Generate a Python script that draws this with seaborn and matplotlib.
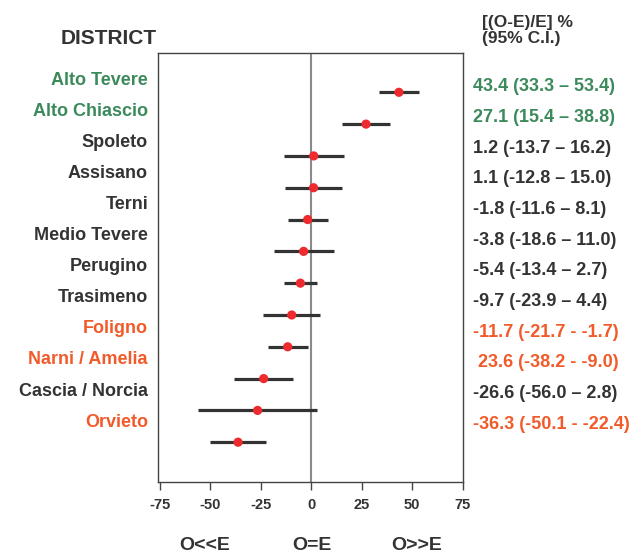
import pandas as pd
import seaborn as sns
import matplotlib.pyplot as plt
from matplotlib.transforms import blended_transform_factory

# --- dati ---
districts = ['Alto Tevere', 'Alto Chiascio', 'Spoleto', 'Assisano', 'Terni',
             'Medio Tevere', 'Perugino', 'Trasimeno', 'Foligno',
             'Narni / Amelia', 'Cascia / Norcia', 'Orvieto']
estimate = [43.4, 27.1, 1.2, 1.1, -1.8, -3.8, -5.4, -9.7, -11.7, -23.6, -26.6, -36.3]
ci_low = [33.3, 15.4, -13.7, -12.8, -11.6, -18.6, -13.4, -23.9, -21.7, -38.2, -56.0, -50.1]
ci_high = [53.4, 38.8, 16.2, 15.0, 8.1, 11.0, 2.7, 4.4, -1.7, -9.0, 2.8, -22.4]
# etichette a destra, come scritte nell'originale
value_labels = ['43.4 (33.3 – 53.4)', '27.1 (15.4 – 38.8)', '1.2 (-13.7 – 16.2)',
                '1.1 (-12.8 – 15.0)', '-1.8 (-11.6 – 8.1)', '-3.8 (-18.6 – 11.0)',
                '-5.4 (-13.4 – 2.7)', '-9.7 (-23.9 – 4.4)', '-11.7 (-21.7 - -1.7)',
                ' 23.6 (-38.2 - -9.0)', '-26.6 (-56.0 – 2.8)', '-36.3 (-50.1 - -22.4)']
# high = eccesso significativo, low = difetto significativo, ns = non significativo
group = ['high', 'high', 'ns', 'ns', 'ns', 'ns', 'ns', 'ns', 'low', 'low', 'ns', 'low']
x_ticks = [-75, -50, -25, 0, 25, 50, 75]
bottom_labels = ['O<<E', 'O=E', 'O>>E']
bottom_pos = [-53, 0.5, 52]

GROUP_COLORS = {'high': '#3c8a5c', 'low': '#f15a29', 'ns': '#333333'}
DARK = '#333333'

df = pd.DataFrame({'District': districts, 'Estimate': estimate,
                   'Low': ci_low, 'High': ci_high, 'Label': value_labels,
                   'Group': group})
df['Pos'] = range(len(df))

sns.set_theme(style="white")
plt.rcParams['font.family'] = ['Liberation Sans', 'DejaVu Sans']
plt.rcParams['font.weight'] = 'bold'

fig = plt.figure(figsize=(6.36, 5.55), dpi=100)
W, H = 636, 555
ax = fig.add_axes([158.3 / W, 1 - 482.3 / H, (462.7 - 158.3) / W, (482.3 - 52.7) / H])

# linea di riferimento O=E
ax.axvline(0, color='#8a8a8a', lw=1.5, zorder=1)

# intervalli di confidenza
ax.hlines(df['Pos'], df['Low'], df['High'], color=DARK, lw=2.3, zorder=2)

# stime puntuali
sns.scatterplot(data=df, x='Estimate', y='Pos', ax=ax, color='#ee2a2f',
                s=44, edgecolor='none', zorder=3, legend=False)

ax.set_xlim(-75.8, 75)
ax.set_ylim(12.26, -1.245)
ax.set_xticks(x_ticks)
ax.set_xticklabels([str(t) for t in x_ticks], fontsize=10.5, fontweight='bold', color=DARK)
ax.set_yticks([])
ax.set_xlabel('')
ax.set_ylabel('')
ax.tick_params(axis='x', direction='out', length=5.5, width=1, color='#444444',
               pad=6, bottom=True)
for sp in ax.spines.values():
    sp.set_color('#444444')
    sp.set_linewidth(1)

# etichette distretti (a sinistra) e valori (a destra)
for i, row in df.iterrows():
    c = GROUP_COLORS[row['Group']]
    y_left = 1 - (78.3 + 31.06 * i + 6.6) / H
    fig.text(148 / W, y_left, row['District'], ha='right', va='baseline',
             fontsize=13, fontweight='bold', color=c)
    y_right = 1 - (84.5 + 30.7 * i + 6.6) / H
    fig.text(473 / W, y_right, row['Label'], ha='left', va='baseline',
             fontsize=13, fontweight='bold', color=c)

fig.text(157 / W, 1 - 44 / H, 'DISTRICT', ha='right', va='baseline',
         fontsize=15, fontweight='bold', color=DARK)
fig.text(482 / W, 1 - 26.5 / H, '[(O-E)/E] %', ha='left', va='baseline',
         fontsize=12.5, fontweight='bold', color=DARK)
fig.text(482 / W, 1 - 43 / H, '(95% C.I.)', ha='left', va='baseline',
         fontsize=12.5, fontweight='bold', color=DARK)

trans = blended_transform_factory(ax.transData, fig.transFigure)
for lab, xp in zip(bottom_labels, bottom_pos):
    ax.text(xp, 1 - 550 / H, lab, transform=trans, ha='center', va='baseline',
            fontsize=14, fontweight='bold', color=DARK)

fig.savefig('out.png', dpi=100)
plt.close(fig)
